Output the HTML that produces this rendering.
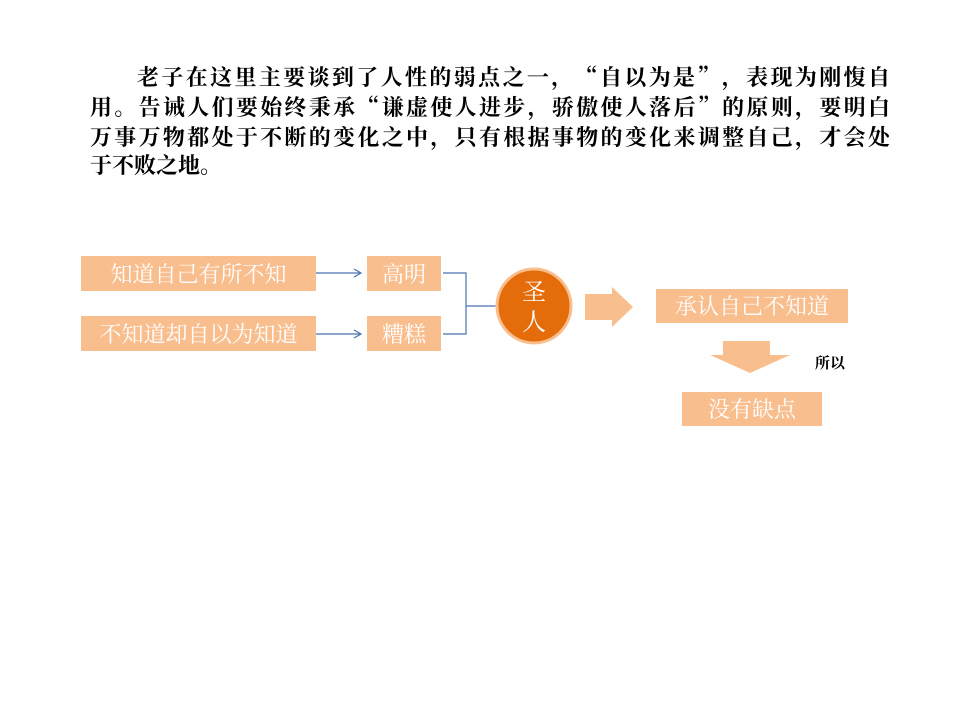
<!DOCTYPE html>
<html><head><meta charset="utf-8"><style>
body{margin:0;width:960px;height:720px;background:#fff;position:relative;overflow:hidden;font-family:"Noto Serif CJK SC",serif}
.l{position:absolute;left:90px;width:800px;font-size:22px;font-weight:bold;color:#000;text-align:justify;text-align-last:justify;white-space:nowrap;line-height:30px;font-family:"Noto Serif CJK SC",serif}
.b{position:absolute;background:#f9be8e;color:#fff;font-size:22px;text-align:center;font-family:"Noto Serif CJK SC",serif}
</style></head><body>
<div class="l" style="top:62px;left:137px;width:753px">老子在这里主要谈到了人性的弱点之一，“自以为是”，表现为刚愎自</div>
<div class="l" style="top:92px">用。告诫人们要始终秉承“谦虚使人进步，骄傲使人落后”的原则，要明白</div>
<div class="l" style="top:122px">万事万物都处于不断的变化之中，只有根据事物的变化来调整自己，才会处</div>
<div class="l" style="top:150px;text-align-last:left">于不败之地。</div>

<div class="b" style="left:81px;top:256px;width:235px;height:35px;line-height:35px">知道自己有所不知</div>
<div class="b" style="left:81px;top:316px;width:235px;height:35px;line-height:35px">不知道却自以为知道</div>
<div class="b" style="left:367px;top:256px;width:74px;height:35px;line-height:35px">高明</div>
<div class="b" style="left:367px;top:316px;width:74px;height:35px;line-height:35px">糟糕</div>
<div class="b" style="left:656px;top:289px;width:192px;height:34px;line-height:34px">承认自己不知道</div>
<div class="b" style="left:682px;top:392px;width:140px;height:34px;line-height:34px">没有缺点</div>

<svg width="960" height="720" style="position:absolute;left:0;top:0">
<g stroke="#4a72b0" stroke-width="1.2" fill="none">
<line x1="316" y1="273" x2="360" y2="273"/><polyline points="354,269 361,273 354,277"/>
<line x1="316" y1="334" x2="360" y2="334"/><polyline points="354,330 361,334 354,338"/>
<polyline points="443,273 466,273 466,334 443,334"/>
<line x1="466" y1="306" x2="497" y2="306"/>
</g>
<circle cx="534" cy="306" r="37" fill="#e46c0a" stroke="#f9be8e" stroke-width="3"/>
<text x="534" y="300" font-size="24" fill="#fff" text-anchor="middle" font-family="Noto Serif CJK SC,serif">圣</text>
<text x="534" y="330" font-size="24" fill="#fff" text-anchor="middle" font-family="Noto Serif CJK SC,serif">人</text>
<polygon points="585,294 612,294 612,287 633,307 612,327 612,320 585,320" fill="#f9be8e"/>
<polygon points="723,341 770,341 770,355 790,355 750,373 710,355 723,355" fill="#f9be8e"/>
<text x="815" y="368" font-size="15" font-weight="bold" fill="#000" font-family="Noto Serif CJK SC,serif">所以</text>
</svg>
</body></html>
